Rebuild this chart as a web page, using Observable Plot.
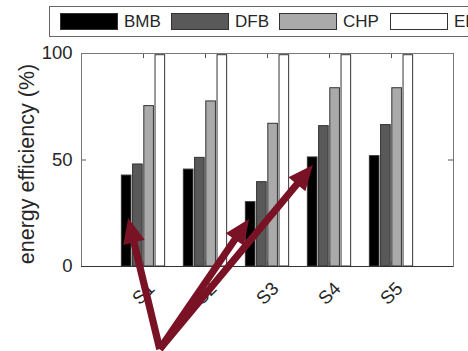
<!DOCTYPE html>
<html><head><meta charset="utf-8">
<script src="https://cdn.jsdelivr.net/npm/d3@7"></script>
<script src="https://cdn.jsdelivr.net/npm/@observablehq/plot@0.6"></script>
<style>
body{margin:0;background:#fff;font-family:"Liberation Sans",Arial,sans-serif;}
#wrap{position:relative;width:468px;height:351px;overflow:hidden;}
#legend{position:absolute;left:49px;top:6px;width:440px;height:29px;border:1px solid #666;background:#fff;}
.item{position:absolute;top:6px;height:17px;display:flex;align-items:center;}
.sw{width:56px;height:15px;border:1px solid #333;}
.lab{margin-left:6px;font-size:17px;color:#262626;line-height:17px;}
</style></head><body><div id="wrap"><div id="chart"></div><div id="legend"></div></div>
<script>
const categories = ["S1","S2","S3","S4","S5"];
const series = ["BMB","DFB","CHP","EE"];
const BMB = [42.7, 45.5, 30.2, 51.2, 51.8];
const DFB = [47.9, 51.0, 39.6, 65.9, 66.4];
const CHP = [75.3, 77.5, 67.0, 83.7, 83.7];
const EE  = [99.2, 99.2, 99.2, 99.2, 99.2];
const yTicks = [0, 50, 100];
const colors = ["#000000", "#595959", "#aaaaaa", "#ffffff"];
// annotation arrows, in data coordinates (x: group position, y: percent)
const arrowFrom = {x: 1.27, y: -39};
const arrowTips = [{x: 0.76, y: 22.5}, {x: 2.71, y: 22.1}, {x: 3.74, y: 47.4}];

const values = [BMB, DFB, CHP, EE];
const rows = [];
categories.forEach((c, i) => series.forEach((s, j) => rows.push({cat: c, g: i + 1, j, series: s, value: values[j][i]})));

const step = 0.181, bw = 0.155;
const tickX = 5 / 62, tickY = 2.4;

function arrows(index, scales) {
  const {x, y} = scales;
  const g = d3.create("svg:g");
  const x0 = x(arrowFrom.x), y0 = y(arrowFrom.y);
  for (const t of arrowTips) {
    const x1 = x(t.x), y1 = y(t.y);
    const a = Math.atan2(y1 - y0, x1 - x0);
    const ux = Math.cos(a), uy = Math.sin(a), nx = -uy, ny = ux;
    const hl = 25, hw = 11, sw = 3.6;
    const bx = x1 - hl * ux, by = y1 - hl * uy;
    const pts = [
      [x0 + nx * sw, y0 + ny * sw], [bx + nx * sw, by + ny * sw], [bx + nx * hw, by + ny * hw],
      [x1, y1], [bx - nx * hw, by - ny * hw], [bx - nx * sw, by - ny * sw], [x0 - nx * sw, y0 - ny * sw]
    ];
    g.append("polygon").attr("points", pts.map(p => p.join(",")).join(" ")).attr("fill", "#7a1225");
  }
  return g.node();
}

const chart = Plot.plot({
  width: 468, height: 351,
  marginLeft: 81, marginRight: 15, marginTop: 53, marginBottom: 85,
  style: {fontSize: "18.5px", fontFamily: "'Liberation Sans', Arial, sans-serif", color: "#262626", background: "transparent", overflow: "visible"},
  x: {domain: [0, 6], axis: null},
  y: {domain: [0, 100], ticks: yTicks, tickSize: 0, tickPadding: 9, label: null},
  color: {domain: series, range: colors},
  marks: [
    Plot.rectY(rows, {x1: d => d.g + (d.j - 1.5) * step - bw / 2, x2: d => d.g + (d.j - 1.5) * step + bw / 2, y1: 0, y2: "value", fill: "series", stroke: "#333", strokeWidth: 1}),
    Plot.ruleY(yTicks, {x1: 0, x2: tickX, stroke: "#555"}),
    Plot.ruleY(yTicks, {x1: 6 - tickX, x2: 6, stroke: "#555"}),
    Plot.ruleX(categories.map((c, i) => i + 1), {y1: 100, y2: 100 - tickY, stroke: "#555"}),
    Plot.ruleX(categories.map((c, i) => i + 1), {y1: 0, y2: tickY, stroke: "#555"}),
    Plot.frame({stroke: "#777"}),
    Plot.ruleY([0], {stroke: "#333"}),
    Plot.text(categories, {x: (d, i) => i + 1, y: 0, dy: 27, rotate: -45, fontSize: 18.5, fill: "#262626"}),
    Plot.text(["energy efficiency (%)"], {frameAnchor: "left", textAnchor: "middle", dx: -54, dy: 4, rotate: -90, fontSize: 21.5, fill: "#262626"}),
    arrows
  ]
});
document.getElementById("chart").appendChild(chart);

const legend = document.getElementById("legend");
const lefts = [10, 121, 229, 340];
series.forEach((s, j) => {
  const it = document.createElement("div");
  it.className = "item";
  it.style.left = lefts[j] + "px";
  it.innerHTML = `<div class="sw" style="background:${colors[j]}"></div><span class="lab">${s}</span>`;
  legend.appendChild(it);
});
</script></body></html>
